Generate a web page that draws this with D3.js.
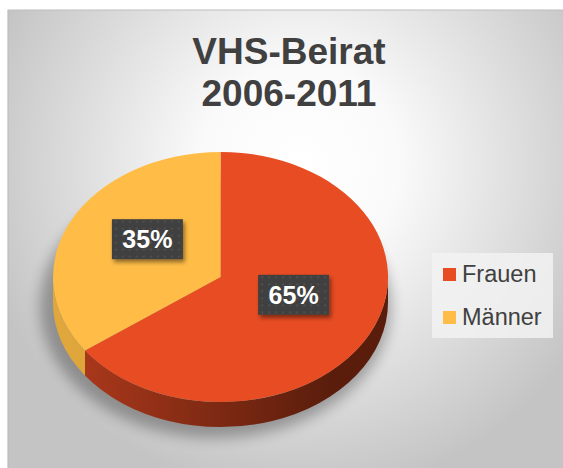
<!DOCTYPE html>
<html>
<head>
<meta charset="utf-8">
<script src="https://cdn.jsdelivr.net/npm/d3@7"></script>
<style>
  body { margin: 0; background: #fff; }
  svg { display: block; font-family: "Liberation Sans", Arial, sans-serif; }
</style>
</head>
<body>
<div id="chart"></div>
<script>
// data
const titleLines = ["VHS-Beirat", "2006-2011"];
const categories = ["Frauen", "Männer"];
const values = [65, 35];
const colors = ["#E84C22", "#FFBD47"];
const sideColors = [["#b03a1c", "#5a1d0c"], ["#e0a83c", "#c98f25"]];

const width = 563, height = 468;

// The svg
let svg = d3.select("#chart")
  .append("svg")
  .attr("width", width)
  .attr("height", height);

let defs = svg.append("defs");

// background gradient
let bg = defs.append("radialGradient")
  .attr("id", "bg")
  .attr("gradientUnits", "userSpaceOnUse")
  .attr("cx", 300).attr("cy", 165).attr("r", 330);
bg.append("stop").attr("offset", 0).attr("stop-color", "#ffffff");
bg.append("stop").attr("offset", 0.3).attr("stop-color", "#fafafa");
bg.append("stop").attr("offset", 1).attr("stop-color", "#c4c4c4");

// shadow filters
let blur = defs.append("filter").attr("id", "blur")
  .attr("x", "-20%").attr("y", "-20%").attr("width", "140%").attr("height", "140%");
blur.append("feGaussianBlur").attr("stdDeviation", 7);

let drop = defs.append("filter").attr("id", "drop")
  .attr("x", "-20%").attr("y", "-20%").attr("width", "150%").attr("height", "150%");
drop.append("feDropShadow")
  .attr("dx", 2).attr("dy", 3).attr("stdDeviation", 2)
  .attr("flood-color", "#000").attr("flood-opacity", 0.45);

// dotted label pattern
let pat = defs.append("pattern").attr("id", "dots")
  .attr("patternUnits", "userSpaceOnUse")
  .attr("width", 7).attr("height", 7);
pat.append("rect").attr("width", 7).attr("height", 7).attr("fill", "#404040");
pat.append("circle").attr("cx", 3.5).attr("cy", 3.5).attr("r", 1).attr("fill", "#555555");

// side gradients
sideColors.forEach((c, i) => {
  let g = defs.append("linearGradient").attr("id", "side" + i)
    .attr("gradientUnits", "userSpaceOnUse")
    .attr("x1", 60).attr("y1", 0).attr("x2", 330).attr("y2", 0);
  g.append("stop").attr("offset", 0).attr("stop-color", c[0]);
  g.append("stop").attr("offset", 1).attr("stop-color", c[1]);
});

// chart area
svg.append("rect")
  .attr("x", 8).attr("y", 10)
  .attr("width", width - 8).attr("height", height - 10)
  .attr("fill", "url(#bg)");
svg.append("path")
  .attr("d", `M8,${height} L8,10 L${width},10`)
  .attr("fill", "none").attr("stroke", "#bdbdbd").attr("stroke-width", 1.2);

// title
svg.append("g").selectAll("text")
  .data(titleLines)
  .enter()
  .append("text")
    .attr("x", 289)
    .attr("y", (d, i) => 64 + i * 42)
    .attr("text-anchor", "middle")
    .attr("font-size", 37)
    .attr("font-weight", "bold")
    .attr("fill", "#404040")
    .text(d => d);

// pie geometry
const cx = 220.5, cy = 277, rx = 167.5, ry = 125, depth = 25, labelLift = 10;
const pt = (a, dy) => [cx + rx * Math.sin(a), cy - ry * Math.cos(a) + (dy || 0)];

let pie = d3.pie().sort(null).value(d => d);
let slices = pie(values);

// shadow below the pie
svg.append("ellipse")
  .attr("cx", cx - 5).attr("cy", cy + depth + 4)
  .attr("rx", rx + 8).attr("ry", ry + 7)
  .attr("fill", "#000").attr("opacity", 0.3)
  .attr("filter", "url(#blur)");

// side walls (only the front half is visible)
const sidePath = (s, e) => {
  let a = pt(s), b = pt(e), c = pt(e, depth), d = pt(s, depth);
  let large = (e - s) > Math.PI ? 1 : 0;
  return `M${a} A${rx},${ry} 0 ${large} 1 ${b} L${c} A${rx},${ry} 0 ${large} 0 ${d} Z`;
};
svg.append("g").selectAll("path")
  .data(slices)
  .enter()
  .append("path")
    .attr("d", d => {
      let s = Math.max(d.startAngle, Math.PI / 2);
      let e = Math.min(d.endAngle, 3 * Math.PI / 2);
      return e > s ? sidePath(s, e) : null;
    })
    .attr("fill", (d, i) => `url(#side${i})`);

// top face
let arc = d3.arc().innerRadius(0).outerRadius(rx);
svg.append("g")
  .attr("transform", `translate(${cx},${cy}) scale(1,${ry / rx})`)
  .selectAll("path")
  .data(slices)
  .enter()
  .append("path")
    .attr("d", arc)
    .attr("fill", (d, i) => colors[i]);

// data labels
let labelArc = d3.arc().innerRadius(rx * 0.49).outerRadius(rx * 0.49);
let total = d3.sum(values);
let labels = svg.append("g").selectAll("g")
  .data(slices)
  .enter()
  .append("g")
    .attr("transform", d => {
      let c = labelArc.centroid(d);
      return `translate(${cx + c[0]},${cy + c[1] * ry / rx - labelLift})`;
    });
labels.append("rect")
  .attr("x", -35.5).attr("y", -20)
  .attr("width", 71).attr("height", 40)
  .attr("fill", "url(#dots)")
  .attr("filter", "url(#drop)");
labels.append("text")
  .attr("text-anchor", "middle")
  .attr("y", 9)
  .attr("font-size", 25)
  .attr("font-weight", "bold")
  .attr("fill", "#ffffff")
  .text(d => Math.round(d.value / total * 100) + "%");

// legend
let legend = svg.append("g").attr("transform", "translate(432,253)");
legend.append("rect")
  .attr("width", 121).attr("height", 85)
  .attr("fill", "#f2f2f2").attr("opacity", 0.85);
let rows = legend.selectAll("g")
  .data(categories)
  .enter()
  .append("g")
    .attr("transform", (d, i) => `translate(0,${i * 43})`);
rows.append("rect")
  .attr("x", 11).attr("y", 15)
  .attr("width", 13).attr("height", 13)
  .attr("fill", (d, i) => colors[i]);
rows.append("text")
  .attr("x", 30).attr("y", 29)
  .attr("font-size", 23.5)
  .attr("fill", "#404040")
  .text(d => d);
</script>
</body>
</html>
